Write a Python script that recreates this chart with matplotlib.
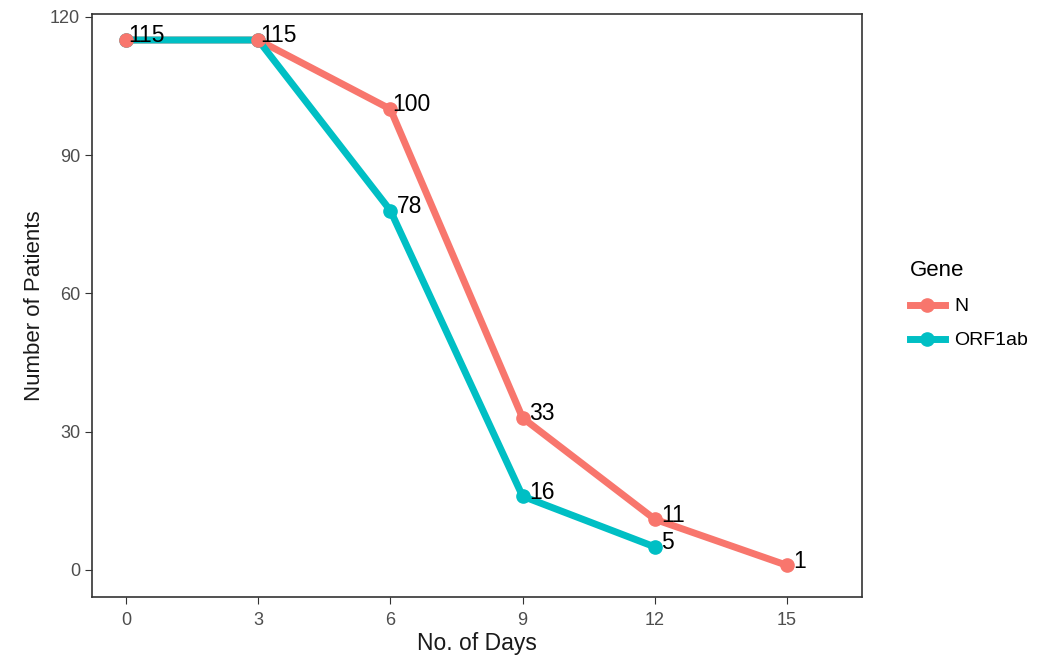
import matplotlib.pyplot as plt
from matplotlib.lines import Line2D

plt.rcParams["font.family"] = ["Liberation Sans", "DejaVu Sans"]

days_n = [0, 3, 6, 9, 12, 15]
patients_n = [115, 115, 100, 33, 11, 1]
days_orf = [0, 3, 6, 9, 12]
patients_orf = [115, 115, 78, 16, 5]

red = "#F8766D"
teal = "#00BFC4"

fig = plt.figure(figsize=(10.41, 6.56), dpi=100)
ax = fig.add_axes([0.0884, 0.09, 0.7396, 0.8887])

ax.plot(days_n, patients_n, color=red, lw=5, solid_capstyle="butt", zorder=2)
ax.plot(days_orf, patients_orf, color=teal, lw=5, solid_capstyle="butt", zorder=3)
ax.plot(days_orf, patients_orf, "o", color=teal, ms=9.5, zorder=4)
ax.plot(days_n, patients_n, "o", color=red, ms=9.5, zorder=5)

# labels sit a little above and right of each point
for x, y in zip(days_n, patients_n):
    if x <= 3:
        continue
    ax.text(x + 0.05 if x == 6 else x + 0.15, y + 0.9, str(y), fontsize=16.5,
            va="center", ha="left", zorder=6)
for x, y in zip(days_orf, patients_orf):
    ax.text(x + 0.05 if x <= 3 else x + 0.15, y + 0.9, str(y), fontsize=16.5,
            va="center", ha="left", zorder=6)

ax.set_xlim(-0.77, 16.7)
ax.set_ylim(-5.86, 120.65)
ax.set_xticks([0, 3, 6, 9, 12, 15])
ax.set_yticks([0, 30, 60, 90, 120])
ax.tick_params(labelsize=13, labelcolor="#4d4d4d", length=5, color="#333333")
ax.tick_params(axis="x", pad=6)
for s in ax.spines.values():
    s.set_color("#333333")
    s.set_linewidth(1.2)

ax.set_xlabel("No. of Days", fontsize=16.5, color="#1a1a1a", labelpad=2)
ax.set_ylabel("Number of Patients", fontsize=16, color="#1a1a1a")

handles = [
    Line2D([], [], color=red, lw=5, marker="o", ms=9.5),
    Line2D([], [], color=teal, lw=5, marker="o", ms=9.5),
]
leg = fig.legend(handles, ["N", "ORF1ab"], title="Gene", loc="upper left",
                 bbox_to_anchor=(0.857, 0.63), frameon=False, fontsize=14,
                 title_fontsize=16, handlelength=1.8, handletextpad=0.5,
                 labelspacing=0.85)
leg._legend_box.align = "left"

fig.savefig("out.png", dpi=100)
